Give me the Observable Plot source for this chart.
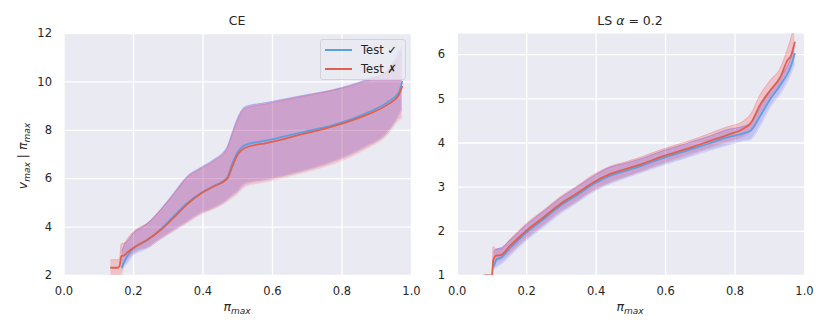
<!DOCTYPE html>
<html><head><meta charset="utf-8">
<script src="https://cdn.jsdelivr.net/npm/d3@7"></script>
<script src="https://cdn.jsdelivr.net/npm/@observablehq/plot@0.6"></script>
<style>
body{margin:0;background:#fff;font-family:"DejaVu Sans",sans-serif;color:#262626;}
#wrap{position:relative;width:830px;height:332px;overflow:hidden;}
.panel{position:absolute;top:0;}
.lbl{position:absolute;font-size:12.5px;white-space:nowrap;transform:translate(-50%,-50%);line-height:1;}
.lbl sub{font-size:9px;font-style:italic;vertical-align:-3px;}
.legend{position:absolute;left:320px;top:39px;width:86px;height:41px;border:1px solid #d2d2d8;border-radius:3px;background:rgba(234,234,242,0.8);box-sizing:border-box;font-size:11.5px;}
.legend .row{position:absolute;left:4px;height:14px;}
.legend .sw{position:absolute;left:0;top:6px;width:27px;height:2px;}
.legend .tx{position:absolute;left:36px;top:0;white-space:nowrap;}
</style>
</head><body>
<div id="wrap"></div>
<script>
// ---- CE panel data ----
const ceX_ok  = [0.167,0.175,0.182,0.2,0.22,0.24,0.278,0.316,0.355,0.393,0.431,0.47,0.484,0.498,0.522,0.585,0.68,0.776,0.872,0.93,0.963,0.973];
const ceM_ok  = [2.35,2.6,2.8,3.12,3.3,3.47,3.9,4.45,5.0,5.4,5.7,6.05,6.62,7.05,7.4,7.58,7.9,8.22,8.72,9.15,9.55,10.0];
const ceLo_ok = [2.25,2.4,2.5,2.85,3.0,3.12,3.52,3.87,4.22,4.57,4.8,5.13,5.3,5.45,5.8,5.97,6.3,6.72,7.35,7.9,8.6,8.9];
const ceHi_ok = [3.0,3.3,3.4,3.75,3.95,4.15,4.72,5.4,6.1,6.45,6.78,7.32,7.9,8.45,8.97,9.15,9.42,9.68,10.1,10.45,11.2,11.45];

const ceX_bad  = [0.135,0.155,0.16,0.165,0.175,0.182,0.2,0.22,0.24,0.278,0.316,0.355,0.393,0.431,0.47,0.484,0.498,0.522,0.585,0.68,0.776,0.872,0.93,0.963,0.973];
const ceM_bad  = [2.32,2.32,2.4,2.8,2.85,2.95,3.15,3.32,3.48,3.88,4.4,4.95,5.38,5.68,6.0,6.5,6.95,7.28,7.48,7.82,8.17,8.65,9.05,9.45,9.8];
const ceLo_bad = [2.0,2.0,2.0,2.0,2.6,2.7,2.9,3.1,3.15,3.5,3.83,4.18,4.52,4.75,5.05,5.2,5.35,5.68,5.88,6.22,6.62,7.25,7.8,8.4,8.5];
const ceHi_bad = [2.65,2.65,2.7,3.3,3.35,3.5,3.8,4.0,4.15,4.7,5.35,6.05,6.4,6.72,7.25,7.8,8.35,8.9,9.1,9.38,9.65,10.05,10.4,11.0,11.3];

// ---- LS alpha=0.2 panel data ----
const lsX_ok  = [0.106,0.115,0.125,0.153,0.2,0.249,0.297,0.345,0.393,0.441,0.489,0.537,0.585,0.633,0.681,0.729,0.777,0.825,0.845,0.873,0.902,0.931,0.96,0.972];
const lsM_ok  = [1.23,1.38,1.4,1.63,1.98,2.28,2.58,2.82,3.07,3.26,3.38,3.5,3.64,3.76,3.88,4.0,4.13,4.22,4.28,4.62,5.0,5.32,5.72,6.02];
const lsLo_ok = [1.15,1.2,1.25,1.45,1.8,2.1,2.4,2.65,2.9,3.08,3.22,3.35,3.48,3.6,3.72,3.84,3.95,4.05,4.08,4.4,4.82,5.12,5.55,5.8];
const lsHi_ok = [1.55,1.6,1.62,1.8,2.15,2.45,2.75,3.0,3.25,3.45,3.55,3.66,3.8,3.92,4.04,4.16,4.3,4.38,4.45,4.82,5.18,5.5,5.9,6.2];

const lsX_bad  = [0.077,0.1,0.104,0.112,0.125,0.153,0.2,0.249,0.297,0.345,0.393,0.441,0.489,0.537,0.585,0.633,0.681,0.729,0.777,0.825,0.845,0.873,0.902,0.931,0.95,0.962,0.972];
const lsM_bad  = [1.0,1.0,1.35,1.45,1.46,1.68,2.02,2.32,2.62,2.86,3.11,3.3,3.42,3.54,3.68,3.8,3.92,4.05,4.18,4.33,4.45,4.88,5.2,5.5,5.86,6.0,6.28];
const lsLo_bad = [0.9,0.9,1.1,1.3,1.35,1.52,1.85,2.15,2.45,2.68,2.93,3.12,3.25,3.38,3.52,3.65,3.78,3.9,4.03,4.15,4.25,4.65,5.0,5.3,5.6,5.85,5.95];
const lsHi_bad = [1.0,1.0,1.65,1.6,1.6,1.82,2.18,2.48,2.78,3.02,3.28,3.47,3.58,3.7,3.84,3.96,4.08,4.22,4.36,4.5,4.65,5.1,5.42,5.7,6.1,6.4,6.7];

const xTicks = [0,0.2,0.4,0.6,0.8,1.0];
const ceYTicks = [2,4,6,8,10,12];
const lsYTicks = [1,2,3,4,5,6];
const seriesNames = ["Test ✓","Test ✗"];

const lineColors = ["#5c9fe2","#e0604f"];
const fillColors = ["blue","red"];

function rows(x,m,lo,hi){ return x.map((v,i)=>({x:v,m:m[i],lo:lo[i],hi:hi[i]})); }

function panel(sets, yDomain, yTicks, mL, mR){
  const curve = "monotone-x";
  const marks = [Plot.frame({fill:"#EAEAF2", stroke:null})];
  marks.push(Plot.gridX(xTicks,{stroke:"white",strokeOpacity:1,strokeWidth:1.3}));
  marks.push(Plot.gridY(yTicks,{stroke:"white",strokeOpacity:1,strokeWidth:1.3}));
  sets.forEach((d,i)=>{
    marks.push(Plot.areaY(d,{x:"x",y1:"lo",y2:"hi",fill:fillColors[i],fillOpacity:0.17,curve,clip:true}));
    marks.push(Plot.line(d,{x:"x",y:"lo",stroke:fillColors[i],strokeOpacity:0.12,strokeWidth:1,curve,clip:true}));
    marks.push(Plot.line(d,{x:"x",y:"hi",stroke:fillColors[i],strokeOpacity:0.12,strokeWidth:1,curve,clip:true}));
  });
  sets.forEach((d,i)=>{
    marks.push(Plot.line(d,{x:"x",y:"m",stroke:lineColors[i],strokeWidth:1.8,curve,clip:true}));
  });
  marks.push(Plot.axisX(xTicks,{tickSize:0,tickPadding:11,tickFormat:d=>d.toFixed(1),fontSize:11.5,label:null,fill:"#262626"}));
  marks.push(Plot.axisY(yTicks,{tickSize:0,tickPadding:12,tickFormat:d=>String(d),fontSize:11.5,label:null,fill:"#262626"}));
  return Plot.plot({
    width:415, height:332,
    marginLeft:mL, marginRight:mR, marginTop:33, marginBottom:57,
    x:{domain:[0,1]}, y:{domain:yDomain},
    style:{fontFamily:"DejaVu Sans, sans-serif", fontSize:"11.5px", overflow:"visible", background:"transparent"},
    marks
  });
}

const wrap = document.getElementById("wrap");
const p1 = panel([rows(ceX_ok,ceM_ok,ceLo_ok,ceHi_ok), rows(ceX_bad,ceM_bad,ceLo_bad,ceHi_bad)], [2,12], ceYTicks, 63.5, 4);
p1.classList.add("panel"); p1.style.left = "0px";
const p2 = panel([rows(lsX_ok,lsM_ok,lsLo_ok,lsHi_ok), rows(lsX_bad,lsM_bad,lsLo_bad,lsHi_bad)], [1,6.48], lsYTicks, 41.7, 26);
p2.classList.add("panel"); p2.style.left = "415px";
wrap.appendChild(p2);
wrap.appendChild(p1);

function lbl(html,x,y,rot){
  const d=document.createElement("div"); d.className="lbl"; d.innerHTML=html;
  d.style.left=x+"px"; d.style.top=y+"px";
  if(rot) d.style.transform="translate(-50%,-50%) rotate(-90deg)";
  wrap.appendChild(d);
}
lbl("CE",237,21);
lbl("LS <i>α</i> = 0.2",630,21);
const pimax = "<i>π</i><sub>max</sub>";
lbl(pimax,237,308);
lbl(pimax,630,308);
lbl("<i>v</i><sub>max</sub> | "+pimax,24,156,true);

const lg=document.createElement("div"); lg.className="legend";
seriesNames.forEach((n,i)=>{
  const r=document.createElement("div"); r.className="row"; r.style.top=(3+i*19)+"px";
  r.innerHTML=`<div class="sw" style="background:${lineColors[i]}"></div><div class="tx">${n}</div>`;
  lg.appendChild(r);
});
wrap.appendChild(lg);
</script>
</body></html>
